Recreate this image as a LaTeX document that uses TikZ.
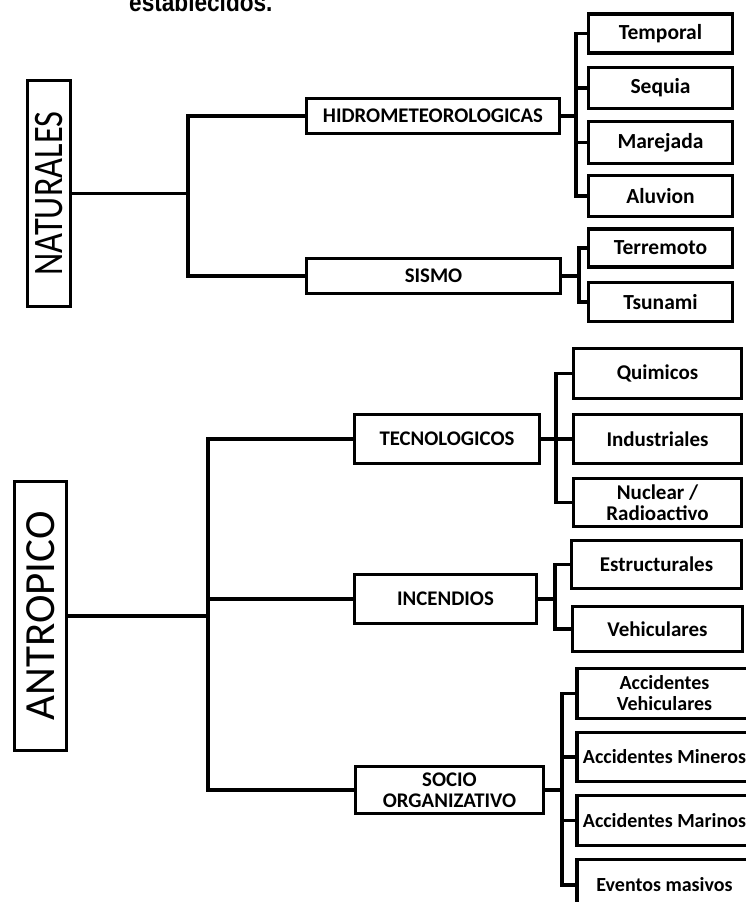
\documentclass[tikz,border=0pt]{standalone}
\usepackage{fontspec}
\setmainfont{Carlito}
\newfontfamily\arialfont{Liberation Sans}
\begin{document}
\begin{tikzpicture}[x=1pt,y=-1pt,
  box/.style={draw, line width=3.6pt, rectangle, inner sep=0pt, align=center,
    font=\bfseries\fontsize{21}{21}\selectfont},
  midbox/.style={box, font=\bfseries\fontsize{20.8}{21}\selectfont},
  topleaf/.style={box, font=\bfseries\fontsize{21.5}{21}\selectfont},
  accbox/.style={box, font=\bfseries\fontsize{20}{21}\selectfont},
  bigbox/.style={draw, line width=3.6pt, rectangle, inner sep=0pt, rotate=90},
  conn/.style={line width=3.2pt},
]
\useasboundingbox (0,0) rectangle (746,902);

% clipped header text
\node[font=\arialfont\bfseries\fontsize{26}{27}\selectfont, anchor=base west, inner sep=0pt] (hdr) at (129,11.5) {\scalebox{0.87}[1]{establecidos.}};

% ---------- NATURALES ----------
\node[bigbox, minimum width=226pt, minimum height=43pt,
  font=\fontsize{42}{44}\selectfont] (nat) at (49,193.5) {\scalebox{0.82}[1]{NATURALES}};

\node[midbox, minimum width=253pt, minimum height=35pt] (hidro) at (433,116) {HIDROMETEOROLOGICAS};
\node[midbox, minimum width=254pt, minimum height=35pt] (sismo) at (433.5,276) {SISMO};

\node[topleaf, minimum width=144pt, minimum height=39pt] (temporal) at (660.5,33.5) {Temporal};
\node[topleaf, minimum width=144pt, minimum height=41pt] (sequia) at (660.5,88) {Sequia};
\node[topleaf, minimum width=144pt, minimum height=42pt] (marejada) at (660.5,142.5) {Marejada};
\node[topleaf, minimum width=144pt, minimum height=41pt] (aluvion) at (660.5,196) {Aluvion};
\node[topleaf, minimum width=144pt, minimum height=38pt] (terremoto) at (660.5,248) {Terremoto};
\node[topleaf, minimum width=144pt, minimum height=39pt] (tsunami) at (660.5,302) {Tsunami};

\coordinate (jn) at (188,193.5);
\coordinate (bh) at (576,116);
\coordinate (bs) at (579,276);

\draw[conn] (nat.south) -- (jn);
\draw[conn] (hidro.west) -| (jn) |- (sismo.west);
\draw[conn] (hidro.east) -- (bh);
\draw[conn] (temporal.west) -| (bh) |- (aluvion.west);
\draw[conn] (bh |- sequia.west) -- (sequia.west);
\draw[conn] (bh |- marejada.west) -- (marejada.west);
\draw[conn] (sismo.east) -- (bs);
\draw[conn] (terremoto.west) -| (bs) |- (tsunami.west);

% ---------- ANTROPICO ----------
\node[bigbox, minimum width=269pt, minimum height=52pt,
  font=\fontsize{43}{45}\selectfont] (ant) at (40.5,616) {ANTROPICO};

\node[midbox, minimum width=185pt, minimum height=49pt] (tecno) at (447,439) {TECNOLOGICOS};
\node[midbox, minimum width=182pt, minimum height=49pt] (incend) at (445.5,599) {INCENDIOS};
\node[midbox, minimum width=188pt, minimum height=47pt] (socio) at (449.5,790) {SOCIO\\ORGANIZATIVO};

\node[box, minimum width=168pt, minimum height=50pt] (quim) at (657.5,373.5) {Quimicos};
\node[box, minimum width=168pt, minimum height=49pt] (indus) at (657.5,439) {Industriales};
\node[box, minimum width=168pt, minimum height=48pt] (nucl) at (657.5,502.5) {Nuclear /\\Radioactivo};
\node[box, minimum width=170pt, minimum height=48pt] (estr) at (656.5,564.5) {Estructurales};
\node[box, minimum width=170pt, minimum height=45pt] (vehic) at (657.5,629) {Vehiculares};

\node[accbox, minimum width=175pt, minimum height=50pt] (accv) at (664.5,693.5) {Accidentes\\Vehiculares};
\node[accbox, minimum width=175pt, minimum height=49pt] (accm) at (664.5,757) {Accidentes Mineros};
\node[accbox, minimum width=175pt, minimum height=50pt] (accma) at (664.5,820.5) {Accidentes Marinos};
\node[accbox, minimum width=175pt, minimum height=51pt] (event) at (664.5,885) {Eventos masivos};

\coordinate (ja) at (208,616);
\coordinate (bt) at (556,439);
\coordinate (bi) at (555,599);
\coordinate (bso) at (562,790);

\draw[conn] (ant.south) -- (ja);
\draw[conn] (tecno.west) -| (ja) |- (socio.west);
\draw[conn] (ja |- incend.west) -- (incend.west);

\draw[conn] (tecno.east) -- (bt);
\draw[conn] (quim.west) -| (bt) |- (nucl.west);
\draw[conn] (bt) -- (indus.west);

\draw[conn] (incend.east) -- (bi);
\draw[conn] (estr.west) -| (bi) |- (vehic.west);

\draw[conn] (socio.east) -- (bso);
\draw[conn] (accv.west) -| (bso) |- (event.west);
\draw[conn] (bso |- accm.west) -- (accm.west);
\draw[conn] (bso |- accma.west) -- (accma.west);
\end{tikzpicture}
\end{document}
